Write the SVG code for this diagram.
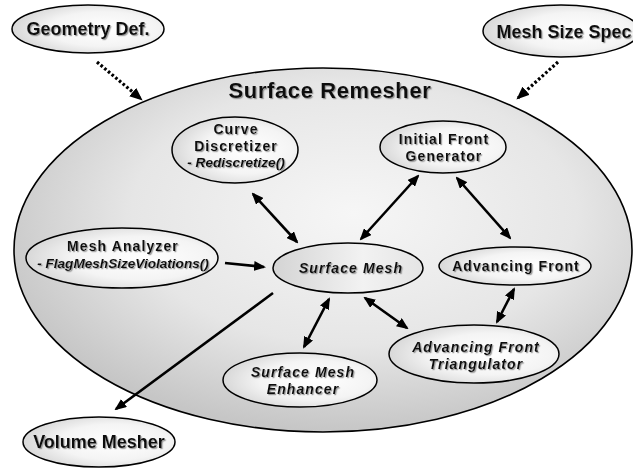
<svg xmlns="http://www.w3.org/2000/svg" width="633" height="469" viewBox="0 0 633 469">
<defs>
<radialGradient id="bigFill" cx="0.55" cy="0.4" r="0.6">
<stop offset="0" stop-color="#f6f6f6"/>
<stop offset="0.6" stop-color="#e6e6e6"/>
<stop offset="1" stop-color="#c6c6c6"/>
</radialGradient>
<radialGradient id="nodeFill" cx="0.6" cy="0.5" r="0.6">
<stop offset="0" stop-color="#ffffff"/>
<stop offset="0.6" stop-color="#f4f4f4"/>
<stop offset="1" stop-color="#d8d8d8"/>
</radialGradient>
<linearGradient id="smFill" x1="0" y1="0" x2="1" y2="0">
<stop offset="0" stop-color="#d4d4d4"/>
<stop offset="0.6" stop-color="#f2f2f2"/>
<stop offset="1" stop-color="#e4e4e4"/>
</linearGradient>
<filter id="sh" x="-10%" y="-30%" width="120%" height="160%">
<feDropShadow dx="1.2" dy="1.2" stdDeviation="0.6" flood-color="#777" flood-opacity="0.7"/>
</filter>
<marker id="ah" viewBox="0 0 12 10" refX="10" refY="5" markerWidth="12" markerHeight="10" markerUnits="userSpaceOnUse" orient="auto-start-reverse">
<path d="M0,0 L12,5 L0,10 z" fill="#000"/>
</marker>
<marker id="ahd" viewBox="0 0 12 10" refX="10" refY="5" markerWidth="13" markerHeight="11" markerUnits="userSpaceOnUse" orient="auto">
<path d="M0,0 L12,5 L0,10 z" fill="#000"/>
</marker>
</defs>
<style>
.node ellipse{fill:url(#nodeFill);stroke:#000;stroke-width:1.5}
text{font-family:"Liberation Sans",Arial,Helvetica,sans-serif;font-weight:bold;fill:#111;text-anchor:middle;filter:url(#sh)}
.t18{font-size:18px}
.t16{font-size:14px;letter-spacing:1.1px}
.it{font-style:italic}
.sm{font-size:13.6px;font-style:italic}
.conn line{stroke:#000;stroke-width:2.6;fill:none}
.bi{marker-start:url(#ah);marker-end:url(#ah)}
.one{marker-end:url(#ah)}
.dot{stroke-dasharray:2.6 2.2;stroke-width:3.2 !important;marker-end:url(#ahd)}
</style>
<rect width="633" height="469" fill="#fff"/>

<g id="surface-remesher">
<ellipse cx="323" cy="250" rx="309" ry="182" fill="url(#bigFill)" stroke="#000" stroke-width="1.6"/>
<text x="330" y="98" style="font-size:22px;letter-spacing:0.6px">Surface Remesher</text>
</g>

<g id="geometry-def" class="node">
<ellipse cx="88" cy="29" rx="76" ry="24"/>
<text class="t18" x="88" y="35">Geometry Def.</text>
</g>
<g id="mesh-size-spec" class="node">
<ellipse cx="561" cy="31" rx="78" ry="26"/>
<text class="t18" x="564" y="38">Mesh Size Spec</text>
</g>
<g id="curve-discretizer" class="node">
<ellipse cx="235" cy="150" rx="63" ry="33"/>
<text class="t16" x="236" y="134">Curve</text>
<text class="t16" x="236" y="150.5">Discretizer</text>
<text class="sm" x="236" y="167">- Rediscretize()</text>
</g>
<g id="initial-front-generator" class="node">
<ellipse cx="443" cy="147" rx="63" ry="26"/>
<text class="t16" x="444" y="144">Initial Front</text>
<text class="t16" x="444" y="160.5">Generator</text>
</g>
<g id="mesh-analyzer" class="node">
<ellipse cx="122" cy="258" rx="96" ry="30"/>
<text class="t16" x="123" y="251">Mesh Analyzer</text>
<text class="sm" x="123" y="268">- FlagMeshSizeViolations()</text>
</g>
<g id="surface-mesh" class="node">
<ellipse cx="348" cy="268" rx="75" ry="25" style="fill:url(#smFill)"/>
<text class="t16 it" x="351" y="273">Surface Mesh</text>
</g>
<g id="advancing-front" class="node">
<ellipse cx="515" cy="266" rx="76" ry="19"/>
<text class="t16" x="516" y="271">Advancing Front</text>
</g>
<g id="advancing-front-triangulator" class="node">
<ellipse cx="474" cy="354" rx="85" ry="29"/>
<text class="t16 it" x="476" y="352">Advancing Front</text>
<text class="t16 it" x="476" y="368.5">Triangulator</text>
</g>
<g id="surface-mesh-enhancer" class="node">
<ellipse cx="300" cy="380" rx="77" ry="27"/>
<text class="t16 it" x="303" y="377">Surface Mesh</text>
<text class="t16 it" x="303" y="393.5">Enhancer</text>
</g>
<g id="volume-mesher" class="node">
<ellipse cx="99" cy="442" rx="76" ry="25"/>
<text class="t18" x="99" y="448">Volume Mesher</text>
</g>

<g id="connectors" class="conn">
<line class="dot" x1="97" y1="62" x2="141" y2="99"/>
<line class="dot" x1="558" y1="62" x2="518" y2="98"/>
<line class="bi" x1="253" y1="194" x2="297" y2="242"/>
<line class="bi" x1="418" y1="176" x2="361" y2="239"/>
<line class="bi" x1="457" y1="178" x2="510" y2="238"/>
<line class="one" x1="225" y1="263" x2="264" y2="267"/>
<line class="one" x1="273" y1="293" x2="116" y2="409"/>
<line class="bi" x1="329" y1="299" x2="304" y2="347"/>
<line class="bi" x1="365" y1="298" x2="407" y2="328"/>
<line class="bi" x1="514" y1="289" x2="497" y2="322"/>
</g>
</svg>
